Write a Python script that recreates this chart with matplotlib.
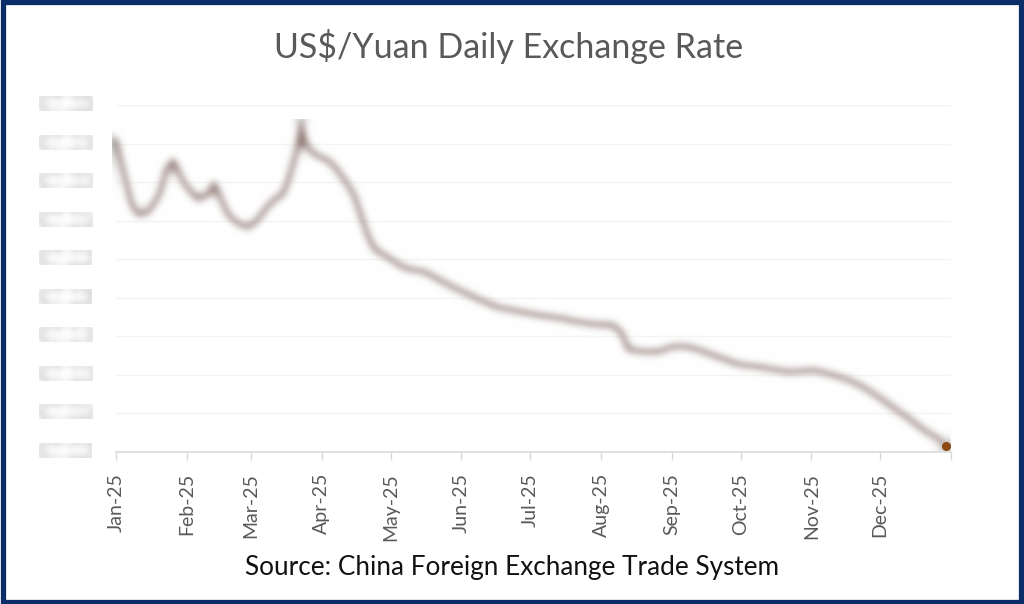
import numpy as np
import pandas as pd
import matplotlib
matplotlib.use("Agg")
import matplotlib.pyplot as plt
from matplotlib.patches import Rectangle

plt.rcParams['font.family'] = ['Lato', 'DejaVu Sans']

# ---- data ----
dates = ["2025-01-01", "2025-01-04", "2025-01-08", "2025-01-11", "2025-01-15", "2025-01-20",
         "2025-01-23", "2025-01-26", "2025-01-30", "2025-02-02", "2025-02-06", "2025-02-10",
         "2025-02-13", "2025-02-16", "2025-02-19", "2025-02-24", "2025-02-28", "2025-03-04",
         "2025-03-07", "2025-03-11", "2025-03-15", "2025-03-18", "2025-03-21", "2025-03-23",
         "2025-03-25", "2025-03-29", "2025-04-02", "2025-04-06", "2025-04-11", "2025-04-15",
         "2025-04-18", "2025-04-21", "2025-04-24", "2025-04-28", "2025-05-03", "2025-05-07",
         "2025-05-11", "2025-05-16", "2025-05-22", "2025-05-31", "2025-06-09", "2025-06-17",
         "2025-06-26", "2025-07-05", "2025-07-14", "2025-07-22", "2025-07-31", "2025-08-06",
         "2025-08-10", "2025-08-13", "2025-08-20", "2025-08-26", "2025-09-02", "2025-09-09",
         "2025-09-15", "2025-09-22", "2025-09-30", "2025-10-10", "2025-10-22", "2025-11-02",
         "2025-11-09", "2025-11-17", "2025-11-24", "2025-12-01", "2025-12-08", "2025-12-14",
         "2025-12-20", "2025-12-27", "2025-12-30"]
rates = [7.344, 7.313, 7.276, 7.266, 7.269, 7.287,
         7.313, 7.323, 7.302, 7.292, 7.282, 7.287,
         7.299, 7.282, 7.266, 7.256, 7.253, 7.261,
         7.271, 7.282, 7.287, 7.307, 7.333, 7.361,
         7.339, 7.328, 7.325, 7.318, 7.302, 7.287,
         7.266, 7.245, 7.230, 7.225, 7.217, 7.211,
         7.209, 7.207, 7.199, 7.188, 7.178, 7.170,
         7.166, 7.162, 7.159, 7.155, 7.152, 7.152,
         7.144, 7.126, 7.124, 7.124, 7.130, 7.129,
         7.124, 7.118, 7.111, 7.108, 7.103, 7.105,
         7.101, 7.095, 7.087, 7.076, 7.064, 7.054,
         7.043, 7.033, 7.026]
y_ticks = [7.02, 7.06, 7.10, 7.14, 7.18, 7.22, 7.26, 7.30, 7.34, 7.38]
y_labels = ["¥7.02", "¥7.06", "¥7.10", "¥7.14", "¥7.18", "¥7.22", "¥7.26", "¥7.30", "¥7.34", "¥7.38"]
x_ticks = ["2025-01-01", "2025-02-01", "2025-03-01", "2025-04-01", "2025-05-01", "2025-06-01",
           "2025-07-01", "2025-08-01", "2025-09-01", "2025-10-01", "2025-11-01", "2025-12-01",
           "2026-01-01"]
x_labels = ["Jan-25", "Feb-25", "Mar-25", "Apr-25", "May-25", "Jun-25", "Jul-25", "Aug-25",
            "Sep-25", "Oct-25", "Nov-25", "Dec-25", ""]
title = "US$/Yuan Daily Exchange Rate"
source = "Source: China Foreign Exchange Trade System"

d = pd.to_datetime(dates)
xt = pd.to_datetime(x_ticks)


def blur(sigma):
    def f(im, dpi):
        pad = int(np.ceil(sigma * 3))
        k = np.exp(-0.5 * (np.arange(-pad, pad + 1) / sigma) ** 2)
        k /= k.sum()
        a = np.pad(im, ((pad, pad), (pad, pad), (0, 0)))
        tmp = np.zeros_like(a)
        n0 = a.shape[0]
        for i, w in enumerate(k):
            tmp[pad:n0 - pad] += w * a[i:n0 - 2 * pad + i]
        out = np.zeros_like(a)
        n1 = a.shape[1]
        for i, w in enumerate(k):
            out[:, pad:n1 - pad] += w * tmp[:, i:n1 - 2 * pad + i]
        return out, -pad, -pad
    return f


fig = plt.figure(figsize=(10.24, 6.04), dpi=100)
fig.patch.set_facecolor("white")
ax = fig.add_axes([116 / 1024, 1 - 452 / 604, (951 - 116) / 1024, (452 - 105) / 604])

ax.set_xlim(xt[0], xt[-1])
ax.set_ylim(7.02, 7.38)

# faint gridlines
for v in y_ticks[1:]:
    ax.axhline(v, color="#f4f4f4", lw=1.0, zorder=0)

line, = ax.plot(d, rates, color="#7e655e", lw=5.5, solid_capstyle="round",
                solid_joinstyle="round", zorder=3, clip_on=False)
line.set_agg_filter(blur(4.6))
ax.plot(d[-1:], rates[-1:], marker="o", ms=5.5, color="#8a4a12", zorder=4, lw=0, clip_on=False)

ax.set_yticks([])
for v, lab in zip(y_ticks, y_labels):
    t = ax.text(-0.027, v, lab, transform=ax.get_yaxis_transform(), ha="right", va="center",
                fontsize=15.5, color="#d4d4d4")
    t.set_agg_filter(blur(4.0))

ax.set_xticks(xt)
ax.set_xticklabels(x_labels, rotation=90, fontsize=14, color="#595959")
ax.tick_params(axis="x", direction="out", length=6, width=1, color="#d9d9d9", pad=9)

for s in ["top", "right", "left"]:
    ax.spines[s].set_visible(False)
ax.spines["bottom"].set_color("#d9d9d9")
ax.spines["bottom"].set_linewidth(1.2)
ax.set_facecolor("none")

fig.text(0.497, 1 - 47 / 604, title, ha="center", va="center", fontsize=24.5, color="#595959")
fig.text(0.500, 1 - 568 / 604, source, ha="center", va="center", fontsize=18.8, color="#111111")

frame = Rectangle((0.0025, 0.004), 0.995, 0.992, transform=fig.transFigure, fill=False,
                  edgecolor="#0b2d68", lw=3.8)
fig.patches.append(frame)

fig.savefig("out.png", dpi=100, facecolor="white")
